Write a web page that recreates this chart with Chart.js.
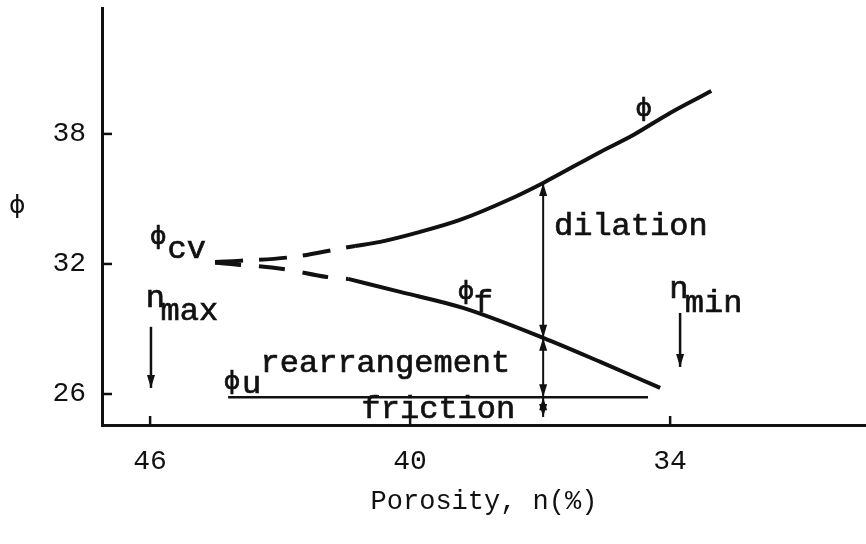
<!DOCTYPE html>
<html>
<head>
<meta charset="utf-8">
<script src="https://cdn.jsdelivr.net/npm/chart.js@4"></script>
<style>
  html, body { margin: 0; padding: 0; background: #fff; }
  #wrap { width: 866px; height: 544px; }
</style>
</head>
<body>
<div id="wrap"><canvas id="porosityChart" width="866" height="544"></canvas></div>
<script>
// friction angle phi vs porosity n (%)
const phiPorosity = [41.27, 40.69, 39.77, 38.85, 37.74, 36.93, 35.61, 34.85, 34.0, 33.05];
const phiValues = [32.83, 33.02, 33.48, 34.03, 34.95, 35.74, 37.17, 37.95, 38.97, 39.98];

const phiFPorosity = [41.43, 40.23, 38.78, 36.93, 35.61, 34.23];
const phiFValues = [31.31, 30.71, 29.97, 28.59, 27.48, 26.28];

// dashed run-in towards phi_cv
const cvUpperPorosity = [44.5, 42.72, 41.66, 41.27];
const cvUpperValues = [32.09, 32.32, 32.69, 32.83];
const cvLowerPorosity = [44.5, 42.93, 41.92, 41.43];
const cvLowerValues = [32.05, 31.77, 31.40, 31.31];

const phiUPorosity = [44.2, 34.51];
const phiUValues = [25.85, 25.85];

const xTicks = [46, 40, 34];
const yTicks = [26, 32, 38];

// porosity where dilation / rearrangement / friction are split
const splitAt = 36.93;
const nMax = 45.98;
const nMin = 33.77;

const MONO = '"Liberation Mono", "DejaVu Sans Mono", monospace';
const INK = '#111';

function pts(xs, ys) {
    return xs.map((x, i) => ({ x: x, y: ys[i] }));
}

function arrowHead(ctx, x, y, dir) {
    ctx.beginPath();
    ctx.moveTo(x, y);
    ctx.lineTo(x - 4, y - dir * 13);
    ctx.lineTo(x + 4, y - dir * 13);
    ctx.closePath();
    ctx.fill();
}

function vArrow(ctx, x, y1, y2, heads) {
    ctx.beginPath();
    ctx.moveTo(x, y1);
    ctx.lineTo(x, y2);
    ctx.stroke();
    if (heads.indexOf('up') >= 0) arrowHead(ctx, x, y1, -1);
    if (heads.indexOf('down') >= 0) arrowHead(ctx, x, y2, 1);
}

const annotations = {
    id: 'annotations',
    afterDatasetsDraw(chart) {
        const ctx = chart.ctx;
        const xs = chart.scales.x;
        const ys = chart.scales.y;
        const px = v => xs.getPixelForValue(v);
        const py = v => ys.getPixelForValue(v);
        const area = chart.chartArea;

        ctx.save();
        ctx.strokeStyle = INK;
        ctx.fillStyle = INK;

        // inward tick marks
        ctx.lineWidth = 2.5;
        yTicks.forEach(v => {
            ctx.beginPath();
            ctx.moveTo(area.left, py(v));
            ctx.lineTo(area.left + 10, py(v));
            ctx.stroke();
        });
        xTicks.forEach(v => {
            ctx.beginPath();
            ctx.moveTo(px(v), area.bottom);
            ctx.lineTo(px(v), area.bottom - 9);
            ctx.stroke();
        });

        // dilation / rearrangement / friction arrows
        ctx.lineWidth = 2;
        const upperAtSplit = phiValues[phiPorosity.indexOf(splitAt)];
        const lowerAtSplit = phiFValues[phiFPorosity.indexOf(splitAt)];
        const ax = px(splitAt);
        vArrow(ctx, ax, py(upperAtSplit), py(lowerAtSplit), ['up', 'down']);
        vArrow(ctx, ax, py(lowerAtSplit), py(phiUValues[0]), ['up', 'down']);
        vArrow(ctx, ax, py(phiUValues[0]), area.bottom - 8, ['up', 'down']);

        // n_max / n_min markers
        ctx.lineWidth = 2.5;
        vArrow(ctx, px(nMax), py(29.1), py(26.28), ['down']);
        vArrow(ctx, px(nMin), py(29.74), py(27.25), ['down']);

        // text labels, lightly stroked to give a typewriter weight
        ctx.textBaseline = 'alphabetic';
        ctx.textAlign = 'left';
        ctx.lineWidth = 0.7;
        const big = '32px ' + MONO;
        const sym = '25px "DejaVu Sans", sans-serif';
        const put = (txt, n, v, font) => {
            ctx.font = font;
            ctx.fillText(txt, px(n), py(v));
            ctx.strokeText(txt, px(n), py(v));
        };
        put('\u03d5', 46.0, 32.92, sym);
        put('cv', 45.6, 32.28, big);
        put('n', 46.1, 30.02, big);
        put('max', 45.76, 29.42, big);
        put('\u03d5', 44.3, 26.25, sym);
        put('u', 43.88, 26.05, big);
        put('rearrangement', 43.45, 27.02, big);
        put('friction', 41.12, 24.87, big);
        put('\u03d5', 38.9, 30.4, sym);
        put('f', 38.53, 29.79, big);
        put('dilation', 36.68, 33.34, big);
        put('n', 34.02, 30.43, big);
        put('min', 33.66, 29.79, big);
        put('\u03d5', 34.8, 38.85, sym);

        // y axis symbol
        ctx.font = sym;
        ctx.fillText('\u03d5', 9, 213);
        ctx.restore();
    }
};

const curve = {
    borderColor: INK,
    borderWidth: 4,
    cubicInterpolationMode: 'monotone'
};

new Chart(
    document.getElementById('porosityChart'),
    {
        type: 'line',
        data: {
            datasets: [
                Object.assign({ data: pts(phiPorosity, phiValues) }, curve),
                Object.assign({ data: pts(phiFPorosity, phiFValues) }, curve),
                Object.assign({ data: pts(cvUpperPorosity, cvUpperValues), borderDash: [28, 16] }, curve),
                Object.assign({ data: pts(cvLowerPorosity, cvLowerValues), borderDash: [26, 18] }, curve),
                {
                    data: pts(phiUPorosity, phiUValues),
                    borderColor: INK,
                    borderWidth: 2.5
                }
            ]
        },
        plugins: [annotations],
        options: {
            responsive: false,
            animation: false,
            events: [],
            layout: { padding: { top: 8, left: 0, right: 0, bottom: 0 } },
            elements: { point: { radius: 0 } },
            plugins: {
                legend: { display: false },
                tooltip: { enabled: false }
            },
            scales: {
                x: {
                    type: 'linear',
                    reverse: true,
                    min: 29.48,
                    max: 47.11,
                    afterBuildTicks: s => { s.ticks = xTicks.map(v => ({ value: v })); },
                    afterFit: s => {
                        s.height = 119;
                        s.paddingLeft = 0;
                        s.paddingRight = 0;
                    },
                    grid: { display: false, drawTicks: false },
                    border: { display: true, color: INK, width: 3 },
                    ticks: {
                        color: INK,
                        padding: 20,
                        font: { family: MONO, size: 28 }
                    },
                    title: {
                        display: true,
                        text: 'Porosity, n(%)',
                        color: INK,
                        font: { family: MONO, size: 27 },
                        padding: { top: 0, bottom: 26 }
                    }
                },
                y: {
                    min: 24.57,
                    max: 43.81,
                    afterBuildTicks: s => { s.ticks = yTicks.map(v => ({ value: v })); },
                    afterFit: s => {
                        s.width = 102;
                        s.paddingTop = 0;
                        s.paddingBottom = 0;
                    },
                    grid: { display: false, drawTicks: false },
                    border: { display: true, color: INK, width: 3 },
                    ticks: {
                        color: INK,
                        padding: 16,
                        font: { family: MONO, size: 28 }
                    }
                }
            }
        }
    }
);
</script>
</body>
</html>
